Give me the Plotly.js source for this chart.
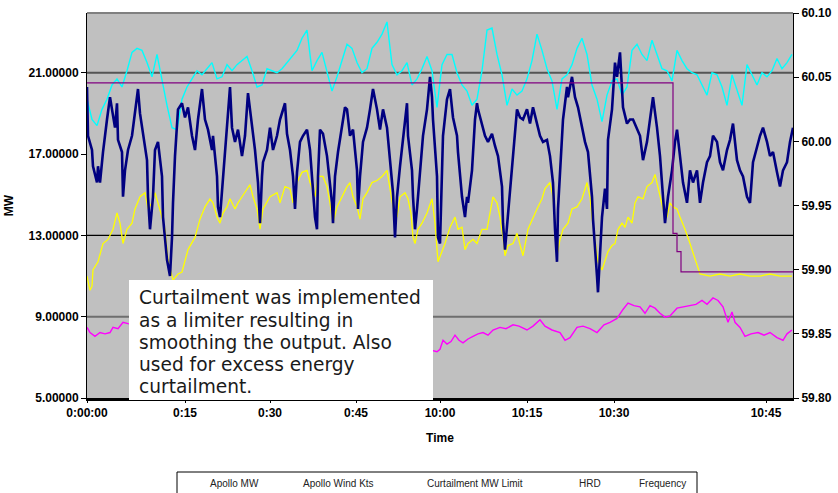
<!DOCTYPE html>
<html>
<head>
<meta charset="utf-8">
<script src="https://cdn.plot.ly/plotly-3.0.1.min.js"></script>
<style>html,body{margin:0;padding:0;background:#fff;}#chart{width:838px;height:493px;}</style>
</head>
<body>
<div id="chart"></div>
<script>
// ---- data (time axis in sample units 0..706) ----
const xTickVals = [0, 98, 183, 269, 353, 440, 527, 679];
const xTickText = ['0:00:00', '0:15', '0:30', '0:45', '10:00', '10:15', '10:30', '10:45'];
const mwTickVals = [5, 9, 13, 17, 21];
const mwTickText = ['5.00000', '9.00000', '13.00000', '17.00000', '21.00000'];
const hzTickVals = [59.80, 59.85, 59.90, 59.95, 60.00, 60.05, 60.10];
const hzTickText = ['59.80', '59.85', '59.90', '59.95', '60.00', '60.05', '60.10'];
const seriesNames = ['Apollo MW', 'Apollo Wind Kts', 'Curtailment MW Limit', 'HRD', 'Frequency'];

// Apollo MW
const apolloT = [
  0,1,5,6,10,11,13,16,20,23,
  25,28,30,31,35,36,38,41,45,48,
  51,53,56,60,61,63,66,68,71,75,
  76,80,83,85,86,88,91,95,98,101,
  105,108,111,115,118,121,125,126,130,131,
  133,135,138,141,143,145,148,151,155,158,
  161,165,168,171,173,175,176,180,183,186,
  190,193,196,198,200,203,206,208,210,213,
  216,220,223,226,228,230,231,233,236,240,
  243,245,246,248,251,255,258,260,263,266,
  270,271,273,276,280,283,286,290,293,296,
  300,303,306,308,310,313,316,320,321,325,
  326,328,330,333,336,340,343,345,346,350,
  351,353,354,355,356,360,363,366,370,371,
  373,375,378,380,381,385,388,390,391,395,
  398,401,405,408,411,415,416,418,420,423,
  426,430,433,436,440,443,446,450,453,456,
  460,463,466,468,470,471,473,476,480,481,
  485,488,491,495,498,501,503,505,506,508,
  510,511,513,515,518,520,521,525,528,530,
  533,535,536,540,543,546,550,553,556,560,
  563,566,570,573,576,578,581,585,588,590,
  593,596,600,603,606,610,613,616,620,623,
  626,630,633,636,640,643,646,650,653,656,
  660,663,666,670,673,676,680,683,686,690,
  693,696,700,703,706
];
const apolloMW = [
  20.3,17.9,17.2,16.4,15.6,16.4,15.6,17.1,18.7,19.8,
  19.2,18.3,19.5,17.7,17.1,14.9,16.2,17.2,17.9,19.2,
  20.2,19.0,17.9,16.7,14.9,13.3,14.9,17.2,17.6,15.9,
  13.9,11.8,11.0,12.9,14.6,16.9,19.2,19.5,18.8,19.3,
  17.9,17.2,18.7,20.2,18.7,18.2,17.2,17.9,15.9,14.4,
  13.9,15.3,16.9,19.0,20.3,18.3,17.6,18.2,16.9,17.9,
  20.0,18.3,17.2,15.6,13.6,15.9,16.6,17.2,18.3,17.2,
  17.9,18.7,19.2,19.5,18.0,17.2,15.9,14.3,16.1,17.6,
  17.9,18.2,17.2,15.4,13.9,13.3,15.9,18.2,18.0,16.9,
  15.6,14.6,13.6,15.9,17.1,18.5,19.3,19.2,17.9,18.2,
  16.2,14.3,15.9,17.6,18.3,19.2,20.2,19.2,18.2,19.2,
  18.3,16.7,15.1,12.9,14.9,16.4,17.6,19.5,17.9,16.2,
  14.9,13.3,14.3,16.2,17.9,19.2,20.8,19.8,18.7,15.9,
  12.9,12.6,14.6,15.9,17.9,19.7,20.2,18.8,17.9,17.1,
  15.9,14.9,13.9,14.9,14.6,16.2,18.7,19.5,19.2,18.5,
  17.9,17.6,18.0,17.4,16.9,15.4,13.6,12.3,13.4,14.9,
  16.9,19.2,18.8,18.7,19.2,18.5,19.3,18.5,17.9,17.6,
  17.7,16.9,15.6,13.3,11.7,14.3,15.9,18.7,20.3,19.8,
  20.8,19.8,19.3,18.3,17.6,17.1,15.9,14.9,13.8,12.6,
  11.0,10.2,12.3,13.9,15.3,14.3,17.7,19.2,21.5,20.8,
  22.0,20.2,19.3,18.5,18.7,18.7,18.2,17.9,16.7,17.6,
  18.7,19.8,18.3,16.9,14.9,13.6,14.9,16.2,17.6,18.2,
  16.9,15.6,14.6,16.2,15.6,16.2,14.6,15.6,16.6,16.9,
  17.9,17.6,16.6,16.2,17.2,17.7,18.5,16.7,16.2,15.9,
  14.9,14.6,16.6,17.4,17.9,18.3,17.6,16.9,17.1,16.1,
  15.4,16.2,16.6,17.6,18.3
];

// Apollo Wind Kts (one reading every 5 time units)
const windKts = [
  19.7,18.7,18.4,19.2,19.7,20.4,20.7,20.3,21.1,22.0,
  22.2,22.1,21.5,20.8,21.9,20.6,19.4,18.3,18.2,19.7,
  20.3,20.7,21.1,20.9,21.2,21.5,20.7,20.8,21.4,21.1,
  21.4,21.6,21.8,21.1,20.3,20.4,21.2,21.1,21.0,21.2,
  21.5,21.8,22.1,22.7,23.1,21.1,21.6,22.0,21.1,20.1,
  20.8,21.6,22.4,22.2,21.5,21.0,21.2,22.2,22.5,22.9,
  23.5,21.4,20.9,21.1,21.5,20.4,20.7,21.2,21.8,21.1,
  19.3,21.4,21.9,21.9,21.0,20.4,20.1,19.4,19.7,21.1,
  23.1,23.2,21.9,20.9,19.4,20.2,19.9,20.1,20.7,21.6,
  22.9,22.1,21.2,20.6,19.2,20.7,20.9,21.4,22.2,22.7,
  21.9,20.4,19.7,18.6,19.9,20.6,20.7,19.9,20.3,22.1,
  22.4,21.9,21.6,22.6,21.9,21.2,21.1,20.6,22.1,21.6,
  21.2,21.0,20.9,20.4,19.9,21.0,20.9,20.3,19.4,20.9,
  20.2,19.4,21.4,20.9,20.4,21.0,20.8,21.1,21.7,21.2,
  21.5,21.9
];
const windStep = 5;

// Curtailment MW Limit
const curtT = [0, 586, 590, 594, 706];
const curtMW = [20.5, 13.1, 12.2, 11.2, 11.2];

// HRD
const hrdT = [
  0,3,5,6,11,16,21,26,30,33,
  36,40,45,48,53,58,61,65,68,71,
  75,78,81,86,91,95,101,108,113,118,
  123,126,130,133,136,140,143,148,151,155,
  160,163,166,170,173,176,183,190,193,198,
  203,206,210,215,220,223,228,231,236,240,
  243,246,250,255,260,263,266,270,273,276,
  280,285,290,295,300,303,306,310,313,318,
  321,324,326,328,331,335,340,345,348,351,
  355,358,363,368,371,375,378,381,386,390,
  395,400,403,406,410,413,416,418,421,426,
  430,433,436,441,446,450,455,458,463,466,
  468,470,473,476,481,485,490,495,500,503,
  505,508,511,515,518,521,525,528,531,535,
  538,541,545,548,551,556,560,565,568,571,
  573,576,580,583,586,590,593,598,603,608,
  613,623,633,643,653,663,673,683,693,705
];
const hrdMW = [
  11.0,10.3,10.5,11.3,11.7,12.6,12.8,13.3,14.1,13.6,
  12.6,13.3,13.6,14.3,14.9,15.1,14.3,14.6,15.1,14.6,
  13.9,13.3,11.8,10.8,11.1,11.2,12.3,12.9,13.8,14.4,
  14.8,14.6,13.9,13.6,14.1,14.4,14.8,14.3,14.6,14.9,
  15.3,15.5,14.9,14.3,13.3,14.3,14.9,15.1,14.6,15.4,
  15.3,14.6,15.6,16.1,16.2,15.6,14.9,15.9,15.9,15.4,
  14.6,13.6,14.4,14.9,15.4,15.6,14.9,14.4,13.8,14.8,
  15.1,15.6,15.7,15.9,16.2,15.3,14.4,13.9,14.9,15.1,
  14.8,14.1,12.9,12.6,13.3,13.6,14.1,14.8,13.6,11.7,
  12.2,12.6,13.4,13.9,13.3,13.4,12.3,12.6,12.8,12.6,
  13.3,13.3,14.1,14.9,14.6,13.9,12.9,12.0,12.5,12.6,
  13.1,12.6,12.0,13.3,13.9,14.3,14.8,15.3,15.6,14.9,
  13.6,12.0,12.8,13.3,13.6,14.3,14.4,14.8,15.6,14.9,
  13.9,12.9,11.7,11.3,11.7,12.2,12.5,12.6,13.3,13.6,
  13.4,13.9,13.6,14.6,14.9,14.8,15.4,15.6,16.0,15.4,
  14.9,14.3,13.9,14.6,14.4,14.3,13.9,13.3,12.6,11.8,
  11.1,11.0,11.1,11.0,11.1,11.0,11.0,11.1,11.0,11.0
];

// Frequency (Hz, right axis)
const freqT = [
  0,3,8,13,18,23,26,31,36,41,
  50,70,90,110,130,150,170,190,210,230,
  250,270,290,310,330,346,350,353,356,360,
  364,368,372,376,381,386,391,396,401,406,
  413,419,426,432,440,446,453,458,465,473,
  478,483,490,496,503,510,517,523,530,536,
  541,547,553,558,563,568,573,578,583,590,
  596,603,609,615,620,626,631,636,641,645,
  648,653,658,664,671,677,683,690,696,700,
  705
];
const freqHz = [
  59.855,59.851,59.848,59.851,59.850,59.851,59.855,59.854,59.859,59.858,
  59.857,59.852,59.855,59.850,59.853,59.849,59.852,59.848,59.850,59.846,
  59.848,59.845,59.846,59.842,59.840,59.837,59.836,59.838,59.845,59.842,
  59.844,59.849,59.845,59.843,59.846,59.848,59.850,59.851,59.849,59.853,
  59.855,59.854,59.857,59.856,59.853,59.856,59.861,59.856,59.853,59.851,
  59.845,59.847,59.855,59.856,59.854,59.851,59.857,59.859,59.862,59.869,
  59.874,59.872,59.871,59.866,59.872,59.870,59.866,59.863,59.864,59.870,
  59.871,59.872,59.873,59.876,59.873,59.878,59.876,59.871,59.859,59.867,
  59.859,59.855,59.848,59.850,59.851,59.849,59.851,59.847,59.845,59.850,
  59.853
];

// horizontal reference lines (MW)
const refLevels = [21, 13, 9];

const noteLines = [
  'Curtailment was implemented',
  'as a limiter resulting in',
  'smoothing the output. Also',
  'used for excess energy',
  'curtailment.'
];

// ---- build ----
const windT = windKts.map((_, i) => i * windStep);
const axFont = {family: 'Liberation Sans, Arial, sans-serif', size: 12, color: '#000', weight: 'bold'};

const traces = [
  {x: hrdT, y: hrdMW, name: seriesNames[3], type: 'scatter', mode: 'lines', line: {color: '#ffff00', width: 1.3}},
  {x: windT, y: windKts, name: seriesNames[1], type: 'scatter', mode: 'lines', line: {color: '#00ffff', width: 1.4}},
  {x: apolloT, y: apolloMW, name: seriesNames[0], type: 'scatter', mode: 'lines', line: {color: '#000080', width: 2.6}},
  {x: curtT, y: curtMW, name: seriesNames[2], type: 'scatter', mode: 'lines', line: {color: '#800080', width: 1.2, shape: 'hv'}},
  {x: freqT, y: freqHz, name: seriesNames[4], type: 'scatter', mode: 'lines', yaxis: 'y2', line: {color: '#ff00ff', width: 1.4}}
];

const refColors = ['#555555', '#000000', '#6e6e6e'];
const refWidths = [2, 1.2, 2];
const shapes = refLevels.map((v, i) => ({
  type: 'line', xref: 'x domain', yref: 'y', x0: 0, x1: 1, y0: v, y1: v,
  line: {color: refColors[i], width: refWidths[i]}, layer: 'below'
}));
shapes.push({type: 'line', xref: 'x domain', yref: 'y domain', x0: 0, x1: 1, y0: 1, y1: 1,
  line: {color: '#808080', width: 2}});
// note box
shapes.push({type: 'rect', xref: 'paper', yref: 'paper', x0: 42 / 706, x1: 346 / 706, y0: -2 / 385, y1: 118 / 385,
  fillcolor: '#ffffff', line: {width: 0}, layer: 'above'});
// legend box
shapes.push({type: 'rect', xref: 'paper', yref: 'paper', x0: 90 / 706, x1: 610 / 706, y0: -97 / 385, y1: -74 / 385,
  fillcolor: '#ffffff', line: {color: '#000', width: 1}, layer: 'above'});

const noteCenters = [101, 78, 56, 34, 12];
const legendLeft = [121, 214, 338, 490, 550];
const annotations = noteLines.map((s, i) => ({
  xref: 'paper', yref: 'paper', x: 50 / 706, y: noteCenters[i] / 385, xanchor: 'left', yanchor: 'middle', align: 'left',
  showarrow: false, text: s, font: {family: 'DejaVu Sans, Verdana, sans-serif', size: 18.6, color: '#1a1a1a'}
})).concat(seriesNames.map((n, i) => ({
  xref: 'paper', yref: 'paper', x: legendLeft[i] / 706, y: -85 / 385, xanchor: 'left', yanchor: 'middle',
  showarrow: false, text: n, font: {family: 'Liberation Sans, Arial, sans-serif', size: 10, color: '#222'}
})));

const layout = {
  width: 838, height: 493,
  margin: {l: 87, r: 45, t: 13, b: 95, pad: 0},
  paper_bgcolor: '#ffffff', plot_bgcolor: '#c0c0c0',
  showlegend: false,
  xaxis: {range: [0, 706], tickmode: 'array', tickvals: xTickVals, ticktext: xTickText,
    showgrid: false, zeroline: false, showline: true, linecolor: '#000', linewidth: 3,
    ticks: 'outside', ticklen: 2, tickcolor: '#000', tickfont: axFont,
    title: {text: 'Time', font: axFont, standoff: 15}},
  yaxis: {range: [5, 23.94], tickmode: 'array', tickvals: mwTickVals, ticktext: mwTickText,
    showgrid: false, zeroline: false, showline: true, linecolor: '#000', linewidth: 1,
    ticks: 'outside', ticklen: 5, tickcolor: '#000', tickfont: axFont,
    title: {text: 'MW', font: axFont, standoff: 12}},
  yaxis2: {overlaying: 'y', side: 'right', range: [59.8, 60.1], tickmode: 'array', tickvals: hzTickVals, ticktext: hzTickText,
    showgrid: false, zeroline: false, showline: true, linecolor: '#000', linewidth: 1,
    ticks: 'outside', ticklen: 5, tickcolor: '#000', tickfont: axFont},
  shapes: shapes,
  annotations: annotations
};

Plotly.newPlot('chart', traces, layout, {displayModeBar: false, staticPlot: true});
</script>
</body>
</html>
